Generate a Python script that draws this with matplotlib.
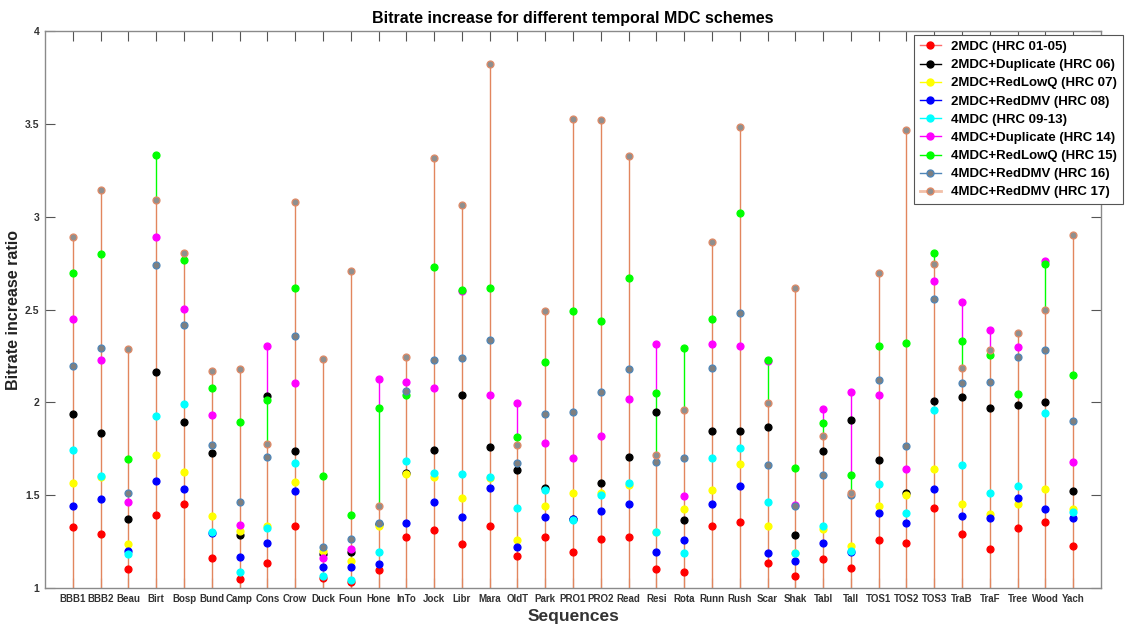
import matplotlib
matplotlib.use("Agg")
import matplotlib.pyplot as plt
from matplotlib.lines import Line2D
from matplotlib.legend_handler import HandlerLine2D
import numpy as np

plt.rcParams['font.family'] = ['Liberation Sans', 'DejaVu Sans']
plt.rcParams['font.weight'] = 'bold'

sequences = ['BBB1', 'BBB2', 'Beau', 'Birt', 'Bosp', 'Bund', 'Camp', 'Cons', 'Crow', 'Duck',
             'Foun', 'Hone', 'InTo', 'Jock', 'Libr', 'Mara', 'OldT', 'Park', 'PRO1', 'PRO2',
             'Read', 'Resi', 'Rota', 'Runn', 'Rush', 'Scar', 'Shak', 'Tabl', 'Tall', 'TOS1',
             'TOS2', 'TOS3', 'TraB', 'TraF', 'Tree', 'Wood', 'Yach']

hrc01 = [1.329, 1.289, 1.100, 1.391, 1.452, 1.160, 1.051, 1.137, 1.336, 1.053,
         1.033, 1.096, 1.272, 1.313, 1.237, 1.334, 1.174, 1.272, 1.196, 1.264,
         1.276, 1.100, 1.088, 1.336, 1.354, 1.135, 1.065, 1.156, 1.108, 1.260,
         1.242, 1.432, 1.289, 1.211, 1.321, 1.353, 1.228]
hrc06 = [1.935, 1.837, 1.372, 2.162, 1.894, 1.729, 1.284, 2.034, 1.739, 1.184,
         1.194, 1.345, 1.620, 1.745, 2.042, 1.761, 1.637, 1.536, 1.370, 1.565,
         1.706, 1.950, 1.368, 1.847, 1.843, 1.866, 1.287, 1.737, 1.907, 1.690,
         1.513, 2.007, 2.027, 1.971, 1.986, 2.000, 1.520]
hrc07 = [1.567, 1.598, 1.239, 1.718, 1.626, 1.389, 1.307, 1.334, 1.569, 1.199,
         1.145, 1.332, 1.612, 1.596, 1.485, 1.590, 1.260, 1.444, 1.512, 1.512,
         1.557, 1.300, 1.424, 1.530, 1.669, 1.332, 1.186, 1.317, 1.225, 1.444,
         1.500, 1.642, 1.452, 1.401, 1.455, 1.534, 1.427]
hrc08 = [1.444, 1.477, 1.197, 1.577, 1.534, 1.298, 1.168, 1.244, 1.520, 1.115,
         1.115, 1.131, 1.348, 1.465, 1.385, 1.540, 1.219, 1.383, 1.372, 1.417,
         1.450, 1.192, 1.256, 1.452, 1.549, 1.188, 1.145, 1.241, 1.196, 1.405,
         1.348, 1.534, 1.387, 1.375, 1.486, 1.425, 1.378]
hrc09 = [1.743, 1.604, 1.184, 1.925, 1.989, 1.301, 1.088, 1.323, 1.675, 1.063,
         1.043, 1.196, 1.686, 1.620, 1.614, 1.596, 1.432, 1.526, 1.364, 1.503,
         1.567, 1.303, 1.188, 1.698, 1.755, 1.461, 1.188, 1.332, 1.197, 1.561,
         1.405, 1.957, 1.661, 1.513, 1.552, 1.943, 1.407]
hrc14 = [2.449, 2.228, 1.461, 2.889, 2.504, 1.931, 1.340, 2.304, 2.103, 1.164,
         1.211, 2.126, 2.111, 2.079, 2.600, 2.038, 1.997, 1.782, 1.698, 1.821,
         2.019, 2.314, 1.497, 2.312, 2.304, 2.222, 1.448, 1.962, 2.058, 2.038,
         1.642, 2.656, 2.541, 2.392, 2.297, 2.763, 1.676]
hrc15 = [2.695, 2.801, 1.694, 3.331, 2.768, 2.075, 1.894, 2.015, 2.615, 1.604,
         1.393, 1.968, 2.038, 2.729, 2.605, 2.615, 1.813, 2.218, 2.490, 2.439,
         2.668, 2.050, 2.291, 2.447, 3.018, 2.230, 1.649, 1.888, 1.610, 2.302,
         2.321, 2.805, 2.328, 2.253, 2.047, 2.747, 2.145]
hrc16 = [2.195, 2.294, 1.512, 2.740, 2.418, 1.772, 1.465, 1.708, 2.355, 1.223,
         1.264, 1.348, 2.060, 2.226, 2.240, 2.334, 1.673, 1.937, 1.946, 2.054,
         2.179, 1.679, 1.702, 2.183, 2.480, 1.665, 1.444, 1.608, 1.503, 2.119,
         1.763, 2.557, 2.106, 2.111, 2.246, 2.281, 1.901]
hrc17 = [2.889, 3.145, 2.287, 3.088, 2.807, 2.171, 2.179, 1.774, 3.081, 2.232,
         2.707, 1.440, 2.242, 3.317, 3.065, 3.820, 1.768, 2.490, 3.526, 3.519,
         3.325, 1.718, 1.958, 2.866, 3.485, 1.999, 2.615, 1.821, 1.512, 2.695,
         3.465, 2.744, 2.186, 2.280, 2.371, 2.500, 2.903]

labels = ['2MDC (HRC 01-05)', '2MDC+Duplicate (HRC 06)', '2MDC+RedLowQ (HRC 07)',
          '2MDC+RedDMV (HRC 08)', '4MDC (HRC 09-13)', '4MDC+Duplicate (HRC 14)',
          '4MDC+RedLowQ (HRC 15)', '4MDC+RedDMV (HRC 16)', '4MDC+RedDMV (HRC 17)']
series = [hrc01, hrc06, hrc07, hrc08, hrc09, hrc14, hrc15, hrc16, hrc17]

# (line colour, marker face, marker edge)
styles = [('#ff0000', '#ff0000', '#ff0000'),
          ('#000000', '#000000', '#000000'),
          ('#ffff00', '#ffff00', '#ffff00'),
          ('#0000ff', '#0000ff', '#0000ff'),
          ('#00ffff', '#00ffff', '#00ffff'),
          ('#ff00ff', '#ff00ff', '#ff00ff'),
          ('#00ff00', '#00ff00', '#00ff00'),
          ('#4f86b8', '#7f7f7f', '#4f86b8'),
          ('#e2865e', '#8f8f8f', '#e08a66')]


class StemHandler(HandlerLine2D):
    # marker at the right end of the legend line, like matlab stem legends
    def get_xdata(self, legend, xdescent, ydescent, width, height, fontsize):
        xdata = np.array([-xdescent, -xdescent + width])
        return xdata, np.array([-xdescent + width])


x = np.arange(1, len(sequences) + 1)
arr = np.array(series)

fig = plt.figure(figsize=(11.26, 6.28), dpi=100)
ax = fig.add_axes([0.040, 0.0637, 0.9378, 0.8869])

# each stem goes from 1 to its value; later series cover earlier ones,
# so only draw the part of each stem that stays visible
for i, (lc, fc, ec) in enumerate(styles):
    vals = arr[i]
    if i < len(styles) - 1:
        low = np.maximum(arr[i + 1:].max(axis=0), 1.0)
    else:
        low = np.ones_like(vals)
    show = vals > low
    ax.vlines(x[show], low[show], vals[show], colors=lc, linewidth=1.0, zorder=2)

handles = []
for vals, (lc, fc, ec), lab in zip(series, styles, labels):
    ax.plot(x, vals, linestyle='none', marker='o', markersize=5,
            markerfacecolor=fc, markeredgecolor=ec, markeredgewidth=0.9, zorder=3)
    lw = 2.0 if lab.endswith('17)') else 1.0
    lcol = '#f2c0a8' if lab.endswith('17)') else lc
    if lab.endswith('01-05)'):
        lcol = '#ff6a6a'
    handles.append(Line2D([0], [0], color=lcol, linewidth=lw, marker='o', markersize=5,
                          markerfacecolor=fc, markeredgecolor=ec, label=lab))

ax.set_xlim(0, 38)
ax.set_ylim(1, 4)
ax.set_xticks(x)
ax.set_xticklabels(sequences, fontsize=7.0, fontweight='bold', color='#333333')
ax.set_yticks([1, 1.5, 2, 2.5, 3, 3.5, 4])
ax.set_yticklabels(['1', '1.5', '2', '2.5', '3', '3.5', '4'], fontsize=7.5,
                   fontweight='bold', color='#333333')
ax.tick_params(direction='in', length=7, width=0.8, color='#555555',
               top=True, right=True, pad=4)
for sp in ax.spines.values():
    sp.set_color('#8a8a8a')
    sp.set_linewidth(1.0)

ax.set_title('Bitrate increase for different temporal MDC schemes', fontsize=11.5,
             fontweight='bold', pad=6)
ax.set_xlabel('Sequences', fontsize=12.5, fontweight='bold', color='#333333', labelpad=4)
ax.set_ylabel('Bitrate increase ratio', fontsize=11.5, fontweight='bold', color='#222222',
              labelpad=3)

leg = ax.legend(handles=handles, loc='upper right', bbox_to_anchor=(1.021, 0.993),
                prop={'weight': 'bold', 'size': 9.5}, handler_map={Line2D: StemHandler()},
                handlelength=1.6, handletextpad=0.8, labelspacing=0.45, borderpad=0.45,
                borderaxespad=0.0, fancybox=False, framealpha=1, edgecolor='#555555')
leg.get_frame().set_linewidth(0.8)

fig.savefig('out.png', dpi=100)
